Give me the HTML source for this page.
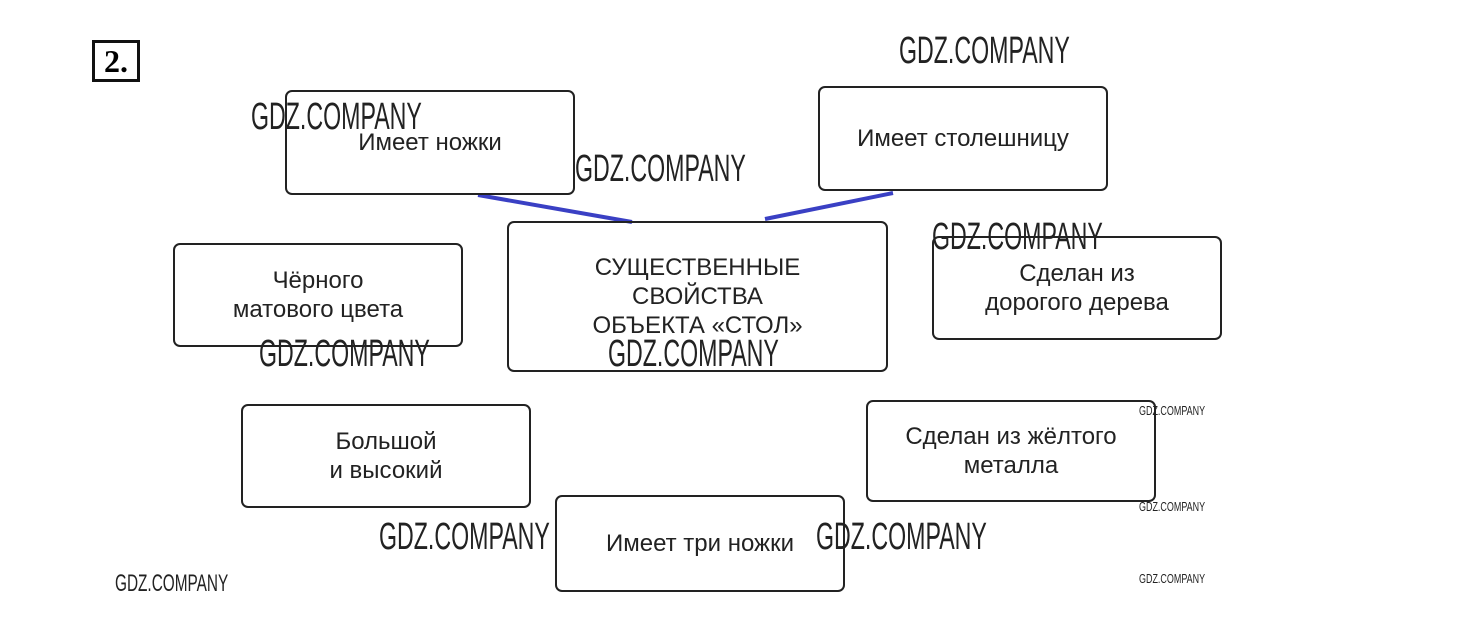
<!DOCTYPE html>
<html><head><meta charset="utf-8"><style>
body{margin:0;width:1460px;height:622px;background:#fff;position:relative;overflow:hidden;font-family:"Liberation Sans",sans-serif;}
.b{position:absolute;border:2px solid #222;border-radius:7px;box-sizing:border-box;display:flex;align-items:center;justify-content:center;text-align:center;font-size:24px;line-height:29px;color:#222;}
.w{position:absolute;font-family:"Liberation Sans Narrow","Liberation Sans",sans-serif;color:#222;transform-origin:0 0;transform:scaleX(0.61);white-space:nowrap;}
.two{position:absolute;left:92px;top:40px;width:48px;height:42px;border:3px solid #111;box-sizing:border-box;font:bold 32px "Liberation Serif",serif;display:flex;align-items:center;justify-content:center;}
</style></head><body>
<div class="two">2.</div>
<svg width="1460" height="622" style="position:absolute;left:0;top:0">
<line x1="478" y1="195" x2="632" y2="222" stroke="#3a40c4" stroke-width="4"/>
<line x1="893" y1="193" x2="765" y2="219" stroke="#3a40c4" stroke-width="4"/>
</svg>
<div class="b" style="left:285px;top:90px;width:290px;height:105px">Имеет ножки</div>
<div class="b" style="left:818px;top:86px;width:290px;height:105px">Имеет столешницу</div>
<div class="b" style="left:173px;top:243px;width:290px;height:104px">Чёрного<br>матового цвета</div>
<div class="b" style="left:507px;top:221px;width:381px;height:151px;font-size:24px;line-height:29px">СУЩЕСТВЕННЫЕ<br>СВОЙСТВА<br>ОБЪЕКТА «СТОЛ»</div>
<div class="b" style="left:932px;top:236px;width:290px;height:104px">Сделан из<br>дорогого дерева</div>
<div class="b" style="left:241px;top:404px;width:290px;height:104px">Большой<br>и высокий</div>
<div class="b" style="left:866px;top:400px;width:290px;height:102px">Сделан из жёлтого<br>металла</div>
<div class="b" style="left:555px;top:495px;width:290px;height:97px">Имеет три ножки</div>
<div class="w" style="left:899px;top:30px;font-size:38px">GDZ.COMPANY</div>
<div class="w" style="left:251px;top:96px;font-size:38px">GDZ.COMPANY</div>
<div class="w" style="left:575px;top:148px;font-size:38px">GDZ.COMPANY</div>
<div class="w" style="left:932px;top:216px;font-size:38px">GDZ.COMPANY</div>
<div class="w" style="left:259px;top:333px;font-size:38px">GDZ.COMPANY</div>
<div class="w" style="left:608px;top:333px;font-size:38px">GDZ.COMPANY</div>
<div class="w" style="left:379px;top:516px;font-size:38px">GDZ.COMPANY</div>
<div class="w" style="left:816px;top:516px;font-size:38px">GDZ.COMPANY</div>
<div class="w" style="left:115px;top:570px;font-size:24px;transform:scaleX(0.64)">GDZ.COMPANY</div>
<div class="w" style="left:1139px;top:403px;font-size:13px;transform:scaleX(0.69)">GDZ.COMPANY</div>
<div class="w" style="left:1139px;top:499px;font-size:13px;transform:scaleX(0.69)">GDZ.COMPANY</div>
<div class="w" style="left:1139px;top:571px;font-size:13px;transform:scaleX(0.69)">GDZ.COMPANY</div>
</body></html>
